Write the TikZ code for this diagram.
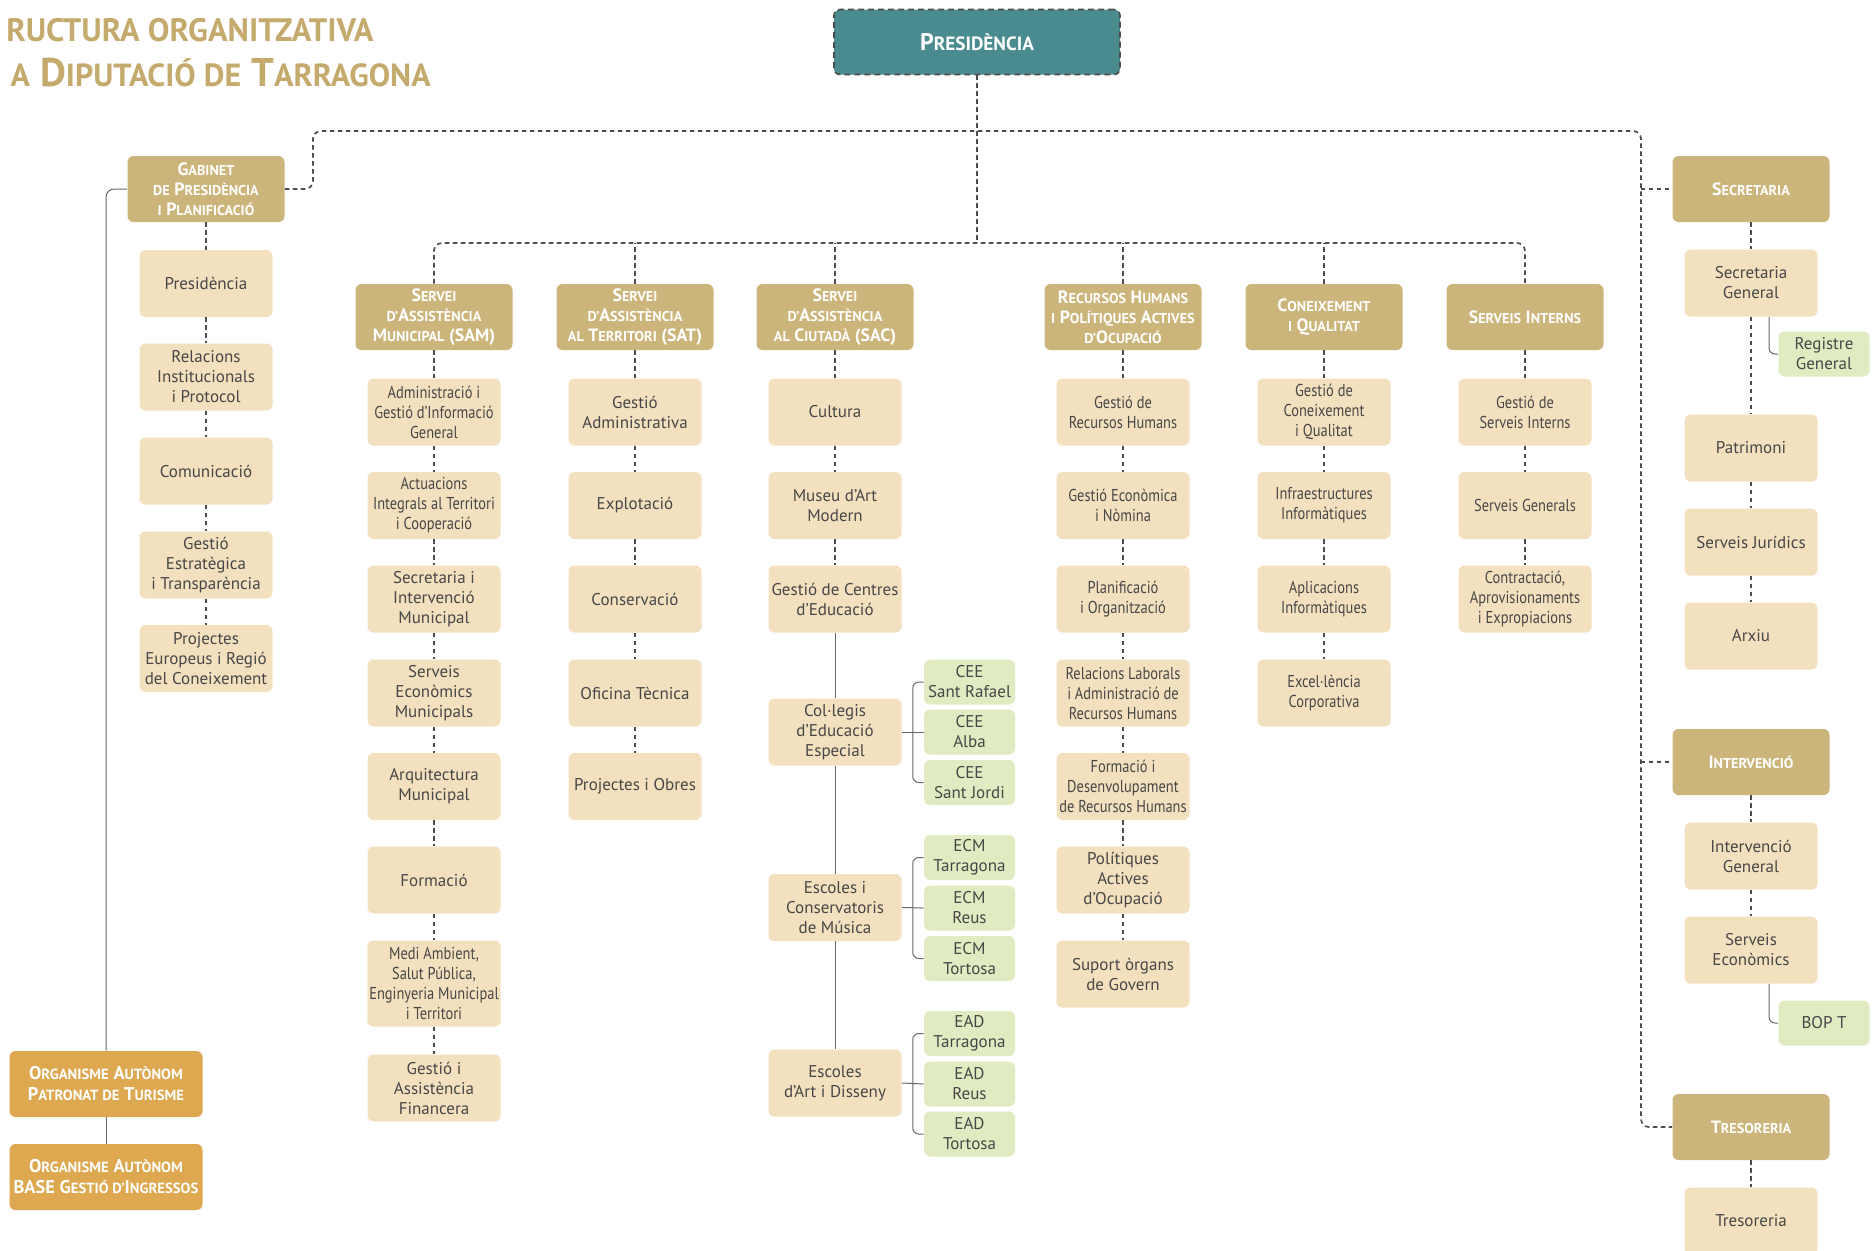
\documentclass[tikz,border=0pt]{standalone}
\usepackage{fontspec}
\setmainfont{PT Sans}
\newfontfamily\cnd[FakeStretch=0.84]{PT Sans}
\usetikzlibrary{calc}

\definecolor{presteal}{HTML}{4A8B8F}
\definecolor{headgold}{HTML}{CBB57B}
\definecolor{subbeige}{HTML}{F3E0BF}
\definecolor{leafgreen}{HTML}{E0EBC1}
\definecolor{orggold}{HTML}{DDA850}
\definecolor{titlegold}{HTML}{C4AA6C}
\definecolor{linegray}{HTML}{4C4C4C}
\definecolor{txtgray}{HTML}{474747}

\makeatletter
\newcommand{\smc}[1]{{\fontsize{\fpeval{0.8*\f@size}}{\f@baselineskip}\selectfont\MakeUppercase{#1}}}
\makeatother

\begin{document}
\begin{tikzpicture}[
    x=0.5pt, y=-0.5pt,
    every node/.style={align=center, inner sep=1pt, rounded corners=3pt},
    presbox/.style={fill=presteal, draw=linegray, densely dashed, line width=0.8pt, text=white,
        minimum width=143pt, minimum height=32.5pt, font=\bfseries\fontsize{12pt}{14pt}\selectfont},
    head/.style={fill=headgold, text=white, minimum width=78.5pt, minimum height=33pt,
        font=\bfseries\fontsize{8.9pt}{10pt}\selectfont},
    sub/.style={fill=subbeige, text=txtgray, minimum width=66.5pt, minimum height=33.5pt,
        font=\fontsize{8.5pt}{10pt}\selectfont},
    cond/.style={font=\cnd\fontsize{8.6pt}{10pt}\selectfont},
    leaf/.style={fill=leafgreen, text=txtgray, minimum width=45.5pt, minimum height=22.5pt,
        font=\fontsize{8.5pt}{10pt}\selectfont},
    org/.style={fill=orggold, text=white, minimum width=96.5pt, minimum height=33pt,
        font=\bfseries\fontsize{9.2pt}{10.5pt}\selectfont},
    dline/.style={draw=linegray, line width=0.85pt, dash pattern=on 2.2pt off 1.8pt},
    sline/.style={draw=linegray!85, line width=0.5pt}
]
\useasboundingbox (0,0) rectangle (1874,1250);

% title
\node (tit1) at (376,41) [anchor=base east, text=titlegold, font=\bfseries\fontsize{20.3pt}{24pt}\selectfont] {\smc{ructura organitzativa}};
\node (tit2) at (433,86) [anchor=base east, text=titlegold, font=\bfseries\fontsize{20pt}{24pt}\selectfont] {\smc{a} D\smc{iputació de} T\smc{arragona}};

% top
\node (pres) at (977,42)   [presbox] {P\smc{residència}};
\node (gab)  at (206,189)  [head] {G\smc{abinet}\\\smc{de} P\smc{residència}\\\smc{i} P\smc{lanificació}};
\node (sec)  at (1751,189) [head] {S\smc{ecretaria}};
\node (itv)  at (1751,762) [head] {I\smc{ntervenció}};
\node (tre)  at (1751,1127) [head] {T\smc{resoreria}};

% serveis
\node (sam) at (434,317)  [head] {S\smc{ervei}\\\smc{d’}A\smc{ssistència}\\M\smc{unicipal} (SAM)};
\node (sat) at (635,317)  [head] {S\smc{ervei}\\\smc{d’}A\smc{ssistència}\\\smc{al} T\smc{erritori} (SAT)};
\node (sac) at (835,317)  [head] {S\smc{ervei}\\\smc{d’}A\smc{ssistència}\\\smc{al} C\smc{iutadà} (SAC)};
\node (rh)  at (1123,317) [head] {R\smc{ecursos} H\smc{umans}\\\smc{i} P\smc{olítiques} A\smc{ctives}\\\smc{d’}O\smc{cupació}};
\node (cq)  at (1324,317) [head] {C\smc{oneixement}\\\smc{i} Q\smc{ualitat}};
\node (si)  at (1525,317) [head] {S\smc{erveis} I\smc{nterns}};

% gabinet
\node (g1) at (206,283.5) [sub] {Presidència};
\node (g2) at (206,377)   [sub] {Relacions\\Institucionals\\i Protocol};
\node (g3) at (206,471)   [sub] {Comunicació};
\node (g4) at (206,565)   [sub] {Gestió\\Estratègica\\i Transparència};
\node (g5) at (206,658.5) [sub] {Projectes\\Europeus i Regió\\del Coneixement};

% SAM
\node (m1) at (434,412)   [sub, cond] {Administració i\\Gestió d’Informació\\General};
\node (m2) at (434,505.5) [sub, cond] {Actuacions\\Integrals al Territori\\i Cooperació};
\node (m3) at (434,599)   [sub] {Secretaria i\\Intervenció\\Municipal};
\node (m4) at (434,693)   [sub] {Serveis\\Econòmics\\Municipals};
\node (m5) at (434,786.5) [sub] {Arquitectura\\Municipal};
\node (m6) at (434,880)   [sub] {Formació};
\node (m7) at (434,983.5) [sub, cond, minimum height=43pt] {Medi Ambient,\\Salut Pública,\\Enginyeria Municipal\\i Territori};
\node (m8) at (434,1088)  [sub] {Gestió i\\Assistència\\Financera};

% SAT
\node (t1) at (635,412)   [sub] {Gestió\\Administrativa};
\node (t2) at (635,505.5) [sub] {Explotació};
\node (t3) at (635,599)   [sub] {Conservació};
\node (t4) at (635,693)   [sub] {Oficina Tècnica};
\node (t5) at (635,786.5) [sub] {Projectes i Obres};

% SAC
\node (c1) at (835,412)   [sub] {Cultura};
\node (c2) at (835,505.5) [sub] {Museu d’Art\\Modern};
\node (c3) at (835,599)   [sub] {Gestió de Centres\\d’Educació};
\node (c4) at (835,732)   [sub] {Col·legis\\d’Educació\\Especial};
\node (c5) at (835,907.5) [sub] {Escoles i\\Conservatoris\\de Música};
\node (c6) at (835,1083)  [sub] {Escoles\\d’Art i Disseny};
\node (cee1) at (969.5,682)  [leaf] {CEE\\Sant Rafael};
\node (cee2) at (969.5,732)  [leaf] {CEE\\Alba};
\node (cee3) at (969.5,782.5) [leaf] {CEE\\Sant Jordi};
\node (ecm1) at (969.5,857.5) [leaf] {ECM\\Tarragona};
\node (ecm2) at (969.5,908)  [leaf] {ECM\\Reus};
\node (ecm3) at (969.5,958.5) [leaf] {ECM\\Tortosa};
\node (ead1) at (969.5,1033.5) [leaf] {EAD\\Tarragona};
\node (ead2) at (969.5,1084) [leaf] {EAD\\Reus};
\node (ead3) at (969.5,1134) [leaf] {EAD\\Tortosa};

% recursos humans
\node (r1) at (1123,412)   [sub, cond] {Gestió de\\Recursos Humans};
\node (r2) at (1123,505.5) [sub, cond] {Gestió Econòmica\\i Nòmina};
\node (r3) at (1123,599)   [sub, cond] {Planificació\\i Organització};
\node (r4) at (1123,693)   [sub, cond] {Relacions Laborals\\i Administració de\\Recursos Humans};
\node (r5) at (1123,786.5) [sub, cond] {Formació i\\Desenvolupament\\de Recursos Humans};
\node (r6) at (1123,880)   [sub] {Polítiques\\Actives\\d’Ocupació};
\node (r7) at (1123,974)   [sub] {Suport òrgans\\de Govern};

% coneixement
\node (q1) at (1324,412)   [sub, cond] {Gestió de\\Coneixement\\i Qualitat};
\node (q2) at (1324,505.5) [sub, cond] {Infraestructures\\Informàtiques};
\node (q3) at (1324,599)   [sub, cond] {Aplicacions\\Informàtiques};
\node (q4) at (1324,693)   [sub, cond] {Excel·lència\\Corporativa};

% serveis interns
\node (s1) at (1525,412)   [sub, cond] {Gestió de\\Serveis Interns};
\node (s2) at (1525,505.5) [sub, cond] {Serveis Generals};
\node (s3) at (1525,599)   [sub, cond] {Contractació,\\Aprovisionaments\\i Expropiacions};

% secretaria, intervencio, tresoreria
\node (a1)  at (1751,283)  [sub] {Secretaria\\General};
\node (reg) at (1824,354)  [leaf] {Registre\\General};
\node (a2)  at (1751,448)  [sub] {Patrimoni};
\node (a3)  at (1751,542)  [sub] {Serveis Jurídics};
\node (a4)  at (1751,636)  [sub] {Arxiu};
\node (b1)  at (1751,856)  [sub] {Intervenció\\General};
\node (b2)  at (1751,950)  [sub] {Serveis\\Econòmics};
\node (bop) at (1824,1023) [leaf] {BOP T};
\node (tr1) at (1751,1221) [sub] {Tresoreria};

% organismes
\node (org1) at (106,1084) [org] {O\smc{rganisme} A\smc{utònom}\\P\smc{atronat de} T\smc{urisme}};
\node (org2) at (106,1177) [org] {O\smc{rganisme} A\smc{utònom}\\BASE G\smc{estió d’}I\smc{ngressos}};

% buses
\coordinate (busL)  at (313,131);
\coordinate (busR)  at (1641,131);
\coordinate (bus2L) at (434,243);
\coordinate (bus2R) at (1525,243);
\draw[dline, rounded corners=4pt] (gab.east) -| (busL) -- (busR) |- (tre.west);
\draw[dline] (busR |- sec.west) -- (sec.west);
\draw[dline] (busR |- itv.west) -- (itv.west);
\draw[dline] (pres.south) -- (pres.south |- bus2L);
\draw[dline, rounded corners=4pt] (sam.north) -- (bus2L) -- (bus2R) -- (si.north);
\foreach \h in {sat, sac, rh, cq}
    \draw[dline] (\h.north) -- (\h.north |- bus2L);

% dashed chains
\foreach \a/\b in {gab/g1, g1/g2, g2/g3, g3/g4, g4/g5,
                   sam/m1, m1/m2, m2/m3, m3/m4, m4/m5, m5/m6, m6/m7, m7/m8,
                   sat/t1, t1/t2, t2/t3, t3/t4, t4/t5,
                   sac/c1, c1/c2, c2/c3,
                   rh/r1, r1/r2, r2/r3, r3/r4, r4/r5, r5/r6, r6/r7,
                   cq/q1, q1/q2, q2/q3, q3/q4,
                   si/s1, s1/s2, s2/s3,
                   sec/a1, a1/a2, a2/a3, a3/a4,
                   itv/b1, b1/b2, tre/tr1}
    \draw[dline] (\a) -- (\b);

% solid links
\foreach \a/\b in {c3/c4, c4/c5, c5/c6, org1/org2}
    \draw[sline] (\a) -- (\b);
\draw[sline, rounded corners=4pt] (gab.west) -| (org1.north);
\foreach \p/\u/\v/\w in {c4/cee1/cee2/cee3, c5/ecm1/ecm2/ecm3, c6/ead1/ead2/ead3} {
    \draw[sline] (\p.east) -- (\v.west);
    \draw[sline, rounded corners=3pt] (\u.west) -| ($(\p.east)!0.5!(\v.west)$) |- (\w.west);
}
\draw[sline, rounded corners=3pt] ($(a1.south)+(18,0)$) |- (reg.west);
\draw[sline, rounded corners=3pt] ($(b2.south)+(18,0)$) |- (bop.west);
\end{tikzpicture}
\end{document}
